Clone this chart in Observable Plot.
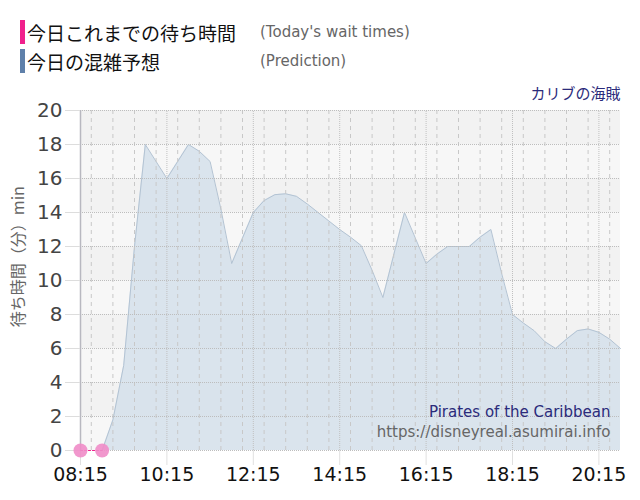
<!DOCTYPE html>
<html>
<head>
<meta charset="utf-8">
<script src="https://cdn.jsdelivr.net/npm/d3@7"></script>
<script src="https://cdn.jsdelivr.net/npm/@observablehq/plot@0.6"></script>
<style>
  body { margin: 0; background: #fff; font-family: "Noto Sans CJK JP", "Noto Sans", sans-serif; }
  #wrap { position: relative; width: 640px; height: 500px; }
  .leg { position: absolute; left: 20px; height: 24px; display: flex; align-items: center; }
  .bar { width: 5px; height: 24px; margin-right: 2px; }
  .jp { font-size: 19px; color: #111; width: 233px; }
  .en { font-size: 15px; color: #666; font-family: "DejaVu Sans", sans-serif; }
  #chart { position: absolute; left: 0; top: 80px; }
</style>
</head>
<body>
<div id="wrap">
  <div class="leg" style="top:20px"><div class="bar" style="background:#f0208c"></div><span class="jp">今日これまでの待ち時間</span><span class="en">(Today's wait times)</span></div>
  <div class="leg" style="top:49px"><div class="bar" style="background:#5f80aa"></div><span class="jp">今日の混雑予想</span><span class="en">(Prediction)</span></div>
  <div id="chart"></div>
</div>
<script>
const title = "カリブの海賊";
const titleEn = "Pirates of the Caribbean";
const siteUrl = "https://disneyreal.asumirai.info";
const yLabel = "待ち時間（分）min";

const actualTimes = ["08:15", "08:45"];
const actualValues = [0, 0];

const predTimes = [
  "08:45","09:00","09:15","09:30","09:45","10:00","10:15","10:30","10:45","11:00",
  "11:15","11:30","11:45","12:00","12:15","12:30","12:45","13:00","13:15","13:30",
  "13:45","14:00","14:15","14:30","14:45","15:00","15:15","15:30","15:45","16:00",
  "16:15","16:30","16:45","17:00","17:15","17:30","17:45","18:00","18:15","18:30",
  "18:45","19:00","19:15","19:30","19:45","20:00","20:15","20:30","20:45"
];
const predValues = [
  0, 1.8, 5, 12, 18, 17, 16, 17, 18, 17.6,
  17, 14.2, 11, 12.5, 14, 14.7, 15.05, 15.1, 14.95, 14.5,
  14, 13.5, 13, 12.55, 12.05, 10.6, 9, 11.5, 14, 12.5,
  11, 11.55, 12, 12, 12, 12.55, 13, 10.4, 8, 7.5,
  7.05, 6.4, 6, 6.55, 7.05, 7.15, 6.95, 6.55, 6
];

const xTickLabels = ["08:15","10:15","12:15","14:15","16:15","18:15","20:15"];
const yTicks = [0,2,4,6,8,10,12,14,16,18,20];
const domainStart = "08:15", domainEnd = "20:45";

const parse = d3.utcParse("%H:%M");
const fmt = d3.utcFormat("%H:%M");

const actual = actualTimes.map((t, i) => ({t: parse(t), v: actualValues[i]}));
const pred = predTimes.map((t, i) => ({t: parse(t), v: predValues[i]}));
const xDomain = [parse(domainStart), parse(domainEnd)];
const majorX = xTickLabels.map(parse);
const minorX = d3.utcMinute.every(30).range(xDomain[0], d3.utcMinute.offset(xDomain[1], 1));
const bands = d3.range(0, 20, 2).map(y => ({y1: y, y2: y + 2, dark: (y / 2) % 2 === 1}));

const chart = Plot.plot({
  width: 640,
  height: 420,
  marginTop: 30,
  marginBottom: 50,
  marginLeft: 80,
  marginRight: 20,
  style: {fontFamily: "'DejaVu Sans', Verdana, sans-serif", background: "transparent"},
  x: {type: "utc", domain: xDomain},
  y: {domain: [0, 20]},
  marks: [
    Plot.rectY(bands, {x1: xDomain[0], x2: xDomain[1], y1: "y1", y2: "y2", fill: d => d.dark ? "#f2f2f2" : "#f7f7f7"}),
    Plot.areaY(pred, {x: "t", y: "v", curve: "linear", fill: "#d6e1eb", fillOpacity: 0.9}),
    Plot.lineY(pred, {x: "t", y: "v", curve: "linear", stroke: "#b3c3d3", strokeWidth: 1}),
    Plot.ruleX(minorX, {stroke: "#c8c8c8", strokeDasharray: "4,4", strokeWidth: 1, y1: 0, y2: 20}),
    Plot.ruleX(majorX, {stroke: "#c0c0c0", strokeDasharray: "1,1", strokeWidth: 1, y1: 0, y2: 20}),
    Plot.ruleY(yTicks, {stroke: "#bdbdbd", strokeDasharray: "1,1", strokeWidth: 1}),
    Plot.ruleX([xDomain[0]], {stroke: "#b8b8c0", strokeWidth: 1.5}),
    Plot.axisY(yTicks, {tickSize: 15, tickPadding: 3, fontSize: 20, color: "#444", stroke: "#dddddd", label: null}),
    Plot.axisX(majorX, {tickSize: 15, tickPadding: 2, fontSize: 19, color: "#111", stroke: "#e0e0e0", tickFormat: fmt, label: null}),
    Plot.text([yLabel], {frameAnchor: "left", y: [11.4], rotate: -90, textAnchor: "middle", dx: -62, fontSize: 16, fill: "#666", fontFamily: "'Noto Sans CJK JP', sans-serif"}),
    Plot.lineY(actual, {x: "t", y: "v", stroke: "#f0208c", strokeWidth: 1.2, strokeDasharray: "2,2"}),
    Plot.dot(actual, {x: "t", y: "v", r: 7, fill: "#f08cc8", fillOpacity: 0.9, stroke: "none"}),
    Plot.text([title], {frameAnchor: "top-right", dy: -22, fontSize: 15, fill: "#2b2b7b", fontFamily: "'Noto Sans CJK JP', sans-serif"}),
    Plot.text([titleEn], {frameAnchor: "bottom-right", dx: -10, dy: -34, fontSize: 15, fill: "#2b2b7b"}),
    Plot.text([siteUrl], {frameAnchor: "bottom-right", dx: -10, dy: -14, fontSize: 15, fill: "#666"})
  ]
});
document.getElementById("chart").appendChild(chart);
</script>
</body>
</html>
